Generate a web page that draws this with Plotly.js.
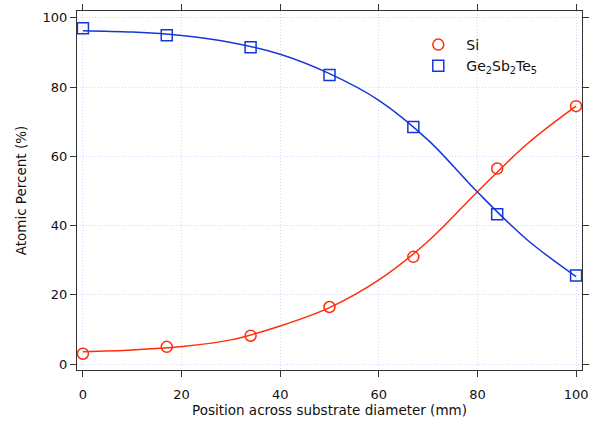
<!DOCTYPE html>
<html><head><meta charset="utf-8">
<script src="https://cdn.plot.ly/plotly-3.0.1.min.js"></script>
<style>html,body{margin:0;padding:0;background:#fff}#c{width:598px;height:423px}</style>
</head><body><div id="c"></div>
<script>
// measured points
var positions = [0, 17, 34, 50, 67, 84, 100];
var siValues = [3.0, 5.0, 8.2, 16.5, 31.0, 56.5, 74.5];
var gstValues = [97.0, 95.0, 91.5, 83.5, 68.5, 43.3, 25.6];
// fitted curves
var fitPositions = [0, 10, 20, 30, 40, 50, 60, 70, 80, 90, 100];
var siFit = [3.6, 4.1, 5.1, 7.0, 11.0, 16.3, 24.3, 35.5, 49.8, 63.5, 74.5];
var gstFit = [96.3, 95.9, 94.9, 92.9, 89.5, 83.9, 76.2, 64.7, 49.7, 36.0, 25.3];
var xTicks = [0, 20, 40, 60, 80, 100];
var yTicks = [0, 20, 40, 60, 80, 100];

var red = '#ff2e0a', blue = '#1537d6';
var font = 'DejaVu Sans, Verdana, sans-serif';

var traces = [
  {x: fitPositions, y: siFit, mode: 'lines', line: {color: red, width: 1.5, shape: 'spline', smoothing: 1}, showlegend: false, hoverinfo: 'skip'},
  {x: fitPositions, y: gstFit, mode: 'lines', line: {color: blue, width: 1.5, shape: 'spline', smoothing: 1}, showlegend: false, hoverinfo: 'skip'},
  {x: positions, y: siValues, mode: 'markers', name: 'Si',
   marker: {symbol: 'circle-open', size: 11, color: red, line: {width: 1.5, color: red}}},
  {x: positions, y: gstValues, mode: 'markers', name: 'Ge<sub>2</sub>Sb<sub>2</sub>Te<sub>5</sub>',
   marker: {symbol: 'square-open', size: 11, color: blue, line: {width: 1.5, color: blue}}}
];

var axisCommon = {
  showline: true, linecolor: '#333', linewidth: 1,
  ticks: 'outside', ticklen: 6, tickcolor: '#333', tickwidth: 1,
  mirror: 'ticks', showgrid: true, gridcolor: '#d4d4ff', griddash: '1px,2px', gridwidth: 1,
  zeroline: false, tickfont: {family: font, size: 13, color: '#111'}
};

var layout = {
  width: 598, height: 423,
  margin: {l: 77, r: 16, t: 11, b: 53},
  paper_bgcolor: '#fff', plot_bgcolor: '#fff',
  font: {family: font, size: 13, color: '#111'},
  xaxis: Object.assign({}, axisCommon, {range: [-1.2, 101.2], tickvals: xTicks, ticklabelstandoff: 6,
    title: {text: 'Position across substrate diameter (mm)', font: {family: font, size: 13.5}, standoff: 4}}),
  yaxis: Object.assign({}, axisCommon, {range: [-1.7, 102], tickvals: yTicks,
    title: {text: 'Atomic Percent (%)', font: {family: font, size: 13.5}, standoff: 12}}),
  legend: {x: 0.66, y: 0.95, xanchor: 'left', yanchor: 'top', bgcolor: 'rgba(0,0,0,0)',
    itemwidth: 46, font: {family: font, size: 14, color: '#111'}, tracegroupgap: 0},
  showlegend: true
};

Plotly.newPlot('c', traces, layout, {displayModeBar: false, staticPlot: true});
</script>
</body></html>
